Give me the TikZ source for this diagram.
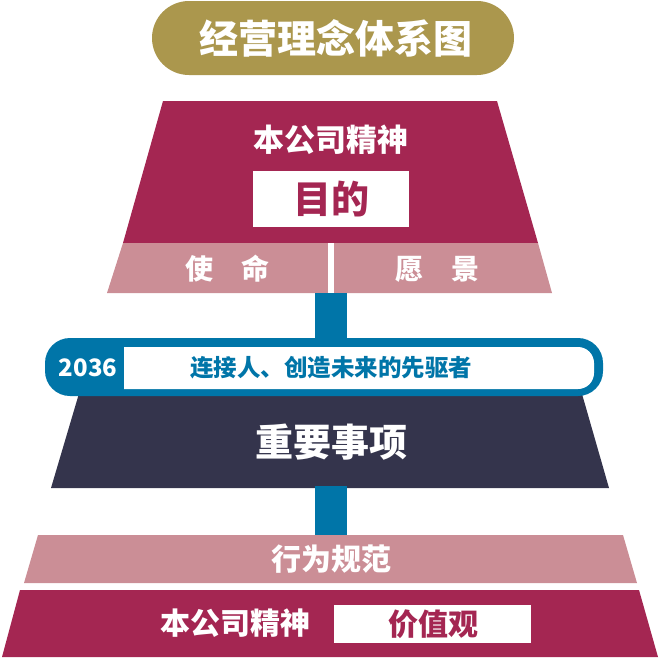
\documentclass[tikz,border=0pt]{standalone}
\usepackage{fontspec}
\newfontfamily\cjk{Noto Sans CJK SC}
\definecolor{gold}{HTML}{AB974D}
\definecolor{maroon}{HTML}{A42652}
\definecolor{rose}{HTML}{CB8E96}
\definecolor{teal}{HTML}{0075A8}
\definecolor{navy}{HTML}{34344C}
\newcommand{\fsz}[1]{\fontsize{#1}{#1}\selectfont}
\begin{document}
\begin{tikzpicture}[x=1pt,y=-1pt,
  txt/.style={inner sep=0pt, font=\cjk\bfseries},
  wtxt/.style={txt, text=white}]
\useasboundingbox (0,0) rectangle (661,657);
% title pill
\fill[gold, rounded corners=37] (152,1) rectangle (514,75);
\node[wtxt, font=\cjk\bfseries\fsz{39}] (title) at (336,38) {经营理念体系图};
% top block
\fill[maroon] (163,101) -- (497,101) -- (538,243) -- (123,243) -- cycle;
\fill[rose] (123,243) -- (538,243) -- (552,293) -- (107,293) -- cycle;
\fill[white] (328,243) rectangle (334,293);
\node[wtxt, font=\cjk\bfseries\fsz{31}] (spirit1) at (331,140) {本公司精神};
\fill[white] (253,171) rectangle (409,227);
\node[txt, text=maroon, font=\cjk\bfseries\fsz{38}] (purpose) at (331,199) {目的};
\node[wtxt, font=\cjk\bfseries\fsz{28}] (mission) at (227,269) {使\hspace{1em}命};
\node[wtxt, font=\cjk\bfseries\fsz{28}] (vision) at (437,269) {愿\hspace{1em}景};
% stem 1
\fill[teal] (315,293) rectangle (347,340);
% dark block
\fill[navy] (83,380) -- (578,380) -- (609,488) -- (51,488) -- cycle;
\node[wtxt, font=\cjk\bfseries\fsz{38}] (matters) at (331,442) {重要事项};
% blue pill
\fill[teal, rounded corners=25] (45,338) rectangle (603,396);
\fill[white] (124,347) {[rounded corners=16] -- (594,347) -- (594,389)} -- (124,389) -- cycle;
\node[wtxt, font=\cjk\bfseries\fsz{24}] (year) at (88,368) {2036};
\node[txt, text=teal, font=\cjk\bfseries\fsz{23.5}] (slogan) at (331,368) {连接人、创造未来的先驱者};
% stem 2
\fill[teal] (315,486) rectangle (347,536);
% bottom bands
\fill[rose] (38,535) -- (623,535) -- (637,583) -- (24,583) -- cycle;
\node[wtxt, font=\cjk\bfseries\fsz{30}] (conduct) at (331,559) {行为规范};
\fill[maroon] (20,590) -- (639,590) -- (658,657) -- (2,657) -- cycle;
\node[wtxt, font=\cjk\bfseries\fsz{30}] (spirit2) at (235,623) {本公司精神};
\fill[white] (334,605) rectangle (531,643);
\node[txt, text=maroon, font=\cjk\bfseries\fsz{30}] (values) at (433,624) {价值观};
\end{tikzpicture}
\end{document}
